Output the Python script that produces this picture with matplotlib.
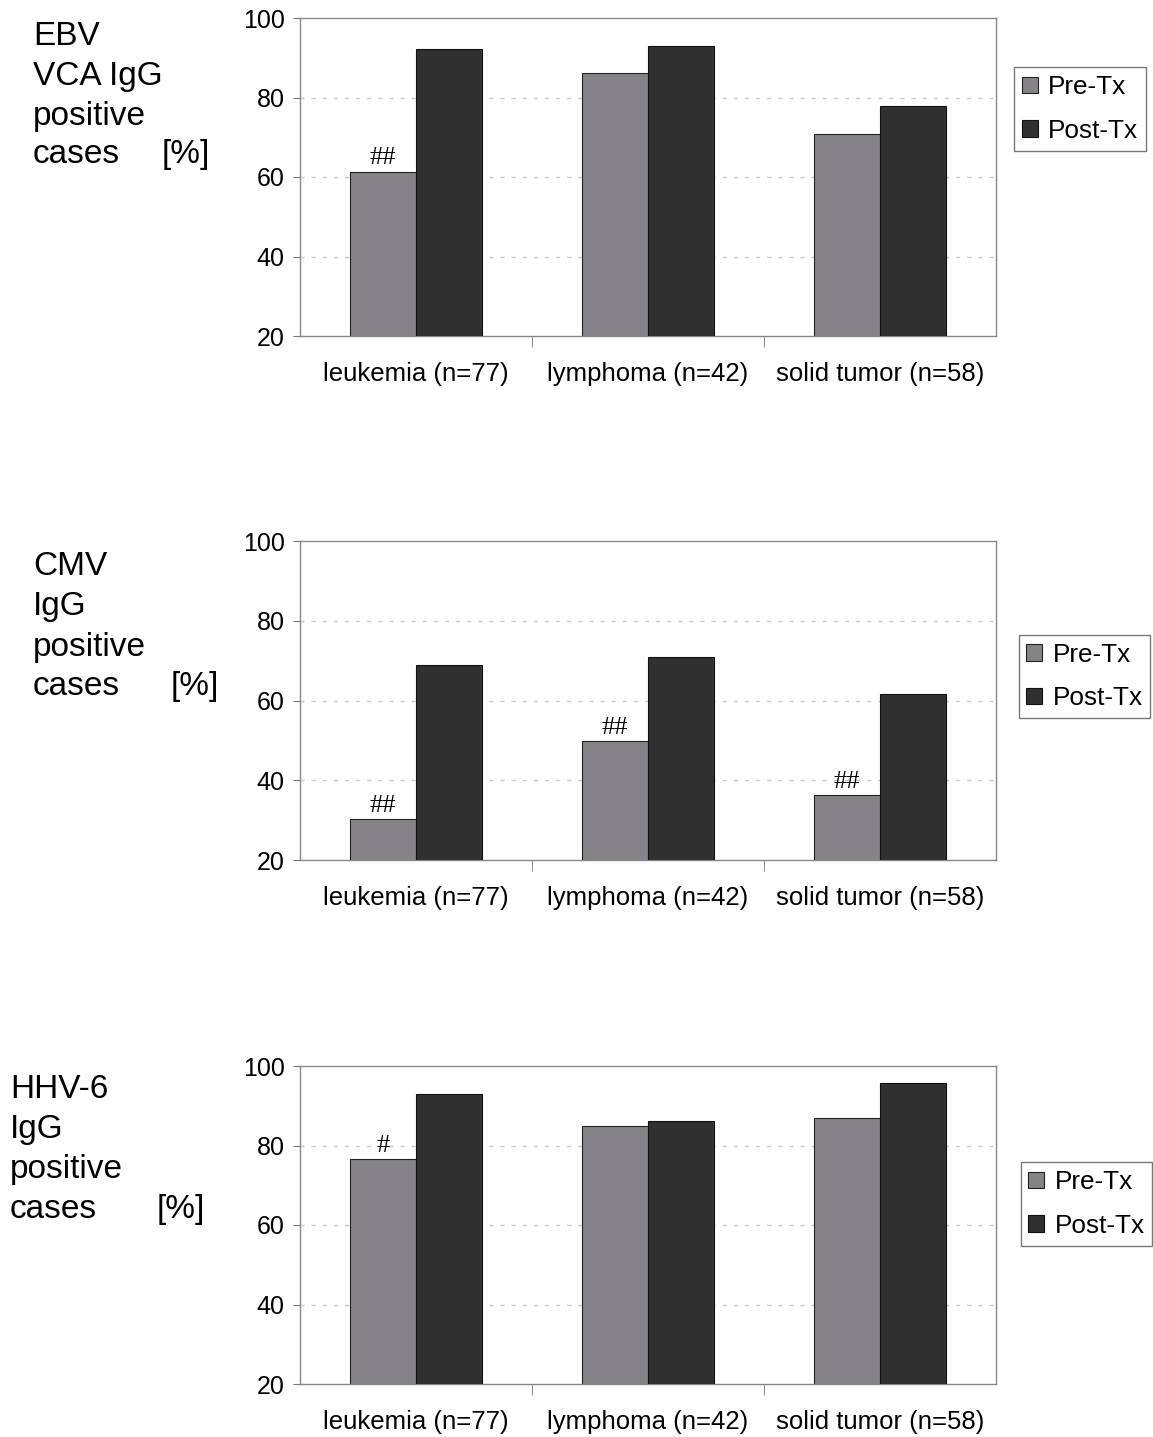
import numpy as np
import matplotlib.pyplot as plt
import matplotlib.transforms as mtransforms

# data
categories = ['leukemia (n=77)', 'lymphoma (n=42)', 'solid tumor (n=58)']
series_names = ['Pre-Tx', 'Post-Tx']

ebv_pre = [61.3, 86.2, 70.8]
ebv_post = [92.2, 93.0, 77.9]
ebv_marks = ['##', '', '']

cmv_pre = [30.3, 49.8, 36.3]
cmv_post = [68.9, 70.9, 61.6]
cmv_marks = ['##', '##', '##']

hhv_pre = [76.6, 84.9, 86.9]
hhv_post = [93.0, 86.2, 95.7]
hhv_marks = ['#', '', '']

ebv_label = ['EBV', 'VCA IgG', 'positive', 'cases']
cmv_label = ['CMV', 'IgG', 'positive', 'cases']
hhv_label = ['HHV-6', 'IgG', 'positive', 'cases']

W, H = 1153, 1437
fig = plt.figure(figsize=(W / 100, H / 100), dpi=100)
plt.rcParams['font.family'] = ['Liberation Sans', 'DejaVu Sans']

c_pre = '#858387'
c_post = '#303030'
bw = 0.285

panels = [
    (ebv_pre, ebv_post, ebv_marks, ebv_label, 18, 336, 33, 210, (1015, 65, 1145, 153), [45, 85, 125, 163]),
    (cmv_pre, cmv_post, cmv_marks, cmv_label, 541, 860, 33, 219, (1020, 632, 1149, 721), [575, 615, 656, 695]),
    (hhv_pre, hhv_post, hhv_marks, hhv_label, 1066, 1384, 10, 205, (1022, 1159, 1151, 1249), [1098, 1138, 1178, 1218]),
]

x = np.arange(len(categories))
shift = mtransforms.ScaledTranslation(5 / 100, 0, fig.dpi_scale_trans)
for pre, post, marks, label, top, bot, lx, pctx, lg, bases in panels:
    ax = fig.add_axes([300 / W, 1 - bot / H, (996 - 300) / W, (bot - top) / H])
    b1 = ax.bar(x - bw / 2, pre, bw, bottom=0, color=c_pre, edgecolor='#222222', linewidth=0.8, zorder=3, label=series_names[0])
    b2 = ax.bar(x + bw / 2, post, bw, bottom=0, color=c_post, edgecolor='#111111', linewidth=0.8, zorder=3, label=series_names[1])
    ax.set_ylim(20, 100)
    ax.set_xlim(-0.5, 2.5)
    ax.set_yticks([20, 40, 60, 80, 100])
    ax.tick_params(axis='y', labelsize=18, length=5, direction='out', color='#777777', pad=6)
    ax.set_xticks(x)
    ax.set_xticklabels(categories, fontsize=18.5)
    for t in ax.get_xticklabels():
        t.set_transform(t.get_transform() + shift)
    ax.tick_params(axis='x', length=0, pad=19)
    ax.set_xticks([0.5, 1.5], minor=True)
    ax.tick_params(axis='x', which='minor', length=8, direction='out', color='#777777')
    for y in [40, 60, 80]:
        ax.axhline(y, color='#c8c8c8', linestyle=(0, (3, 5)), linewidth=1, zorder=1)
    for s in ax.spines.values():
        s.set_color('#888888')
        s.set_linewidth(1)
    for i, m in enumerate(marks):
        if m:
            ax.text(x[i] - bw / 2, pre[i] + 0.6, m, ha='center', va='bottom',
                    fontsize=19, family=['Liberation Serif', 'DejaVu Serif'], zorder=4)

    # legend box
    lx0, ly0, lx1, ly1 = lg
    leg = fig.legend(handles=[b1, b2], loc='center',
                     bbox_to_anchor=((lx0 + lx1) / 2 / W, 1 - (ly0 + ly1) / 2 / H),
                     fontsize=18.8, frameon=True, fancybox=False, edgecolor='#555555',
                     handlelength=0.6, handleheight=0.6, handletextpad=0.4,
                     labelspacing=0.75, borderpad=0.3, borderaxespad=0)
    leg.get_frame().set_linewidth(1)

    # left label
    for line, b in zip(label, bases):
        fig.text(lx / W, 1 - b / H, line, fontsize=24, ha='left', va='baseline')
    fig.text(pctx / W, 1 - bases[-1] / H, '[%]', fontsize=24, ha='right', va='baseline')

fig.savefig('out.png', dpi=100, facecolor='white')
